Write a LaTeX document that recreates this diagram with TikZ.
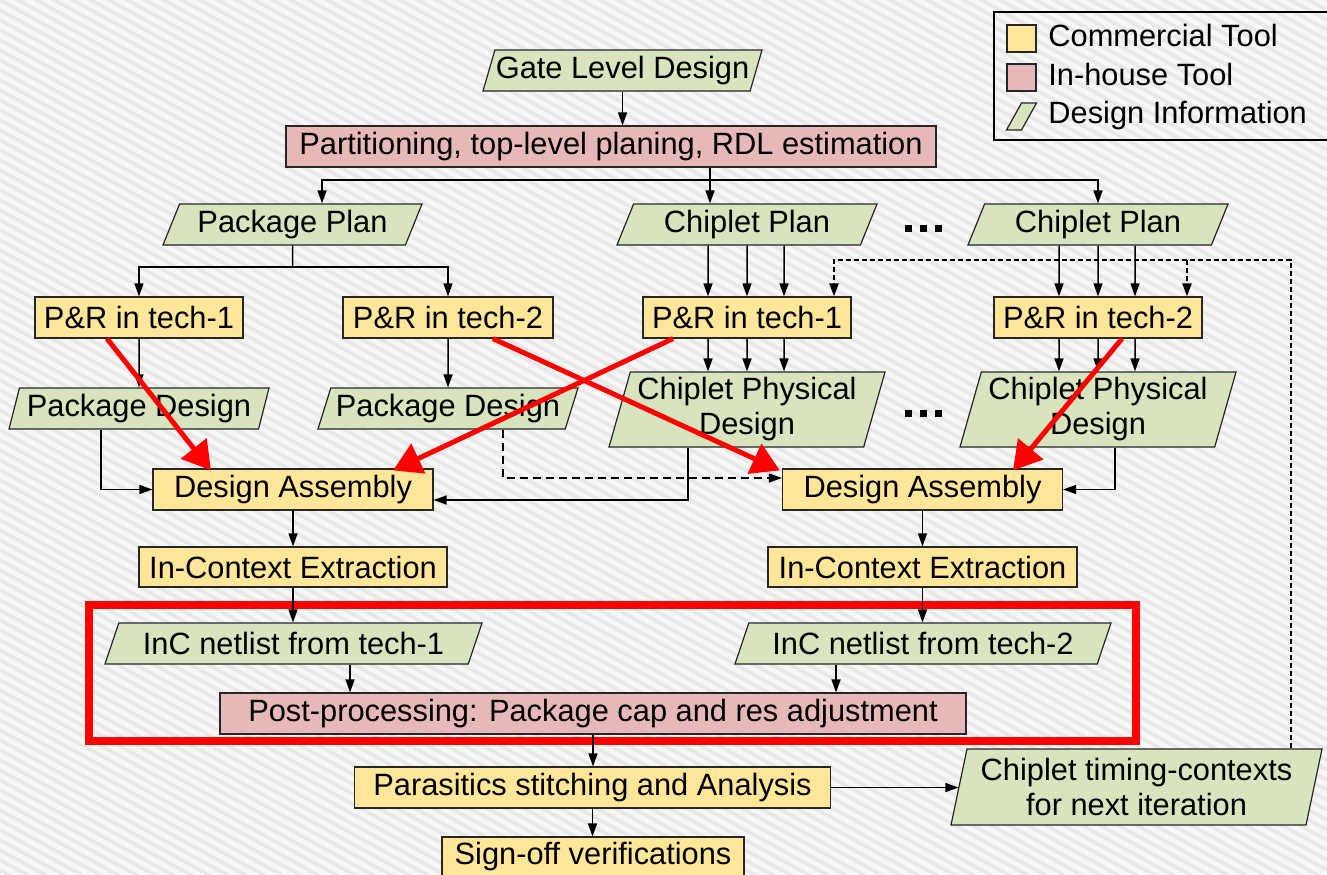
\documentclass[tikz,border=0pt]{standalone}
\usepackage{fontspec}
\setmainfont{Liberation Sans}
\usetikzlibrary{arrows.meta, calc, shapes.geometric}
\definecolor{toolyellow}{RGB}{255,230,153}
\definecolor{housepink}{RGB}{230,184,183}
\definecolor{infogreen}{RGB}{215,228,189}
\definecolor{bggray}{RGB}{246,246,246}
\definecolor{stripegray}{RGB}{232,232,232}

\begin{document}
\begin{tikzpicture}[x=0.5pt, y=-0.5pt, >={Triangle[length=6.5pt,width=4.5pt]},
  font=\fontsize{15.4}{17.5}\selectfont,
  box/.style={draw=black!85, line width=0.6pt, inner sep=0pt, minimum height=20.5pt},
  tool/.style={box, fill=toolyellow},
  inhouse/.style={box, fill=housepink},
  info/.style={box, fill=infogreen, trapezium, trapezium left angle=#1,
    trapezium right angle={180-#1}, trapezium stretches body},
  info/.default=62,
  link/.style={line width=0.75pt, ->},
  redarrow/.style={red, line width=2.5pt, -{Triangle[length=14pt,width=16pt]}},
  fbline/.style={line width=1.1pt, dash pattern=on 2.5pt off 1.5pt, ->}]
  \useasboundingbox (0,0) rectangle (1327,874);
  % striped background
  \fill[bggray] (0,0) rectangle (1327,874);
  \begin{scope}
    \clip (0,0) rectangle (1327,874);
    \foreach \k in {-75,...,90}
      \draw[stripegray, line width=1.8pt] (0,10*\k) -- (1327,10*\k+730);
  \end{scope}

  % legend
  \draw[line width=0.75pt] (994,12) rectangle (1330,140);
  \node[tool, minimum width=14.5pt, minimum height=13.5pt] (keytool) at (1021.5,38.5) {};
  \node[inhouse, minimum width=14.5pt, minimum height=13.5pt] (keyhouse) at (1021.5,77.5) {};
  \node[info=80, trapezium stretches body=false, trapezium stretches=true,
    minimum width=15pt, minimum height=13.5pt] (keyinfo) at (1021.5,116.5) {\vphantom{I}};
  \node[anchor=base west, inner sep=0pt] (keytooltext) at (1048,46) {Commercial Tool};
  \node[anchor=base west, inner sep=0pt] (keyhousetext) at (1048,85) {In-house Tool};
  \node[anchor=base west, inner sep=0pt] (keyinfotext) at (1048,123) {Design Information};

  % post-processing frame
  \draw[red, line width=4pt] (89,605) rectangle (1136,741);

  % planning
  \node[info=67.5, minimum width=139.5pt] (gate) at (622.5,70.5) {Gate Level Design};
  \node[inhouse, minimum width=325pt] (part) at (611,146.5) {Partitioning, top-level planing, RDL estimation};
  \node[info=60, minimum width=129.5pt] (pplan) at (292.5,224.5) {Package Plan};
  \node[info=60, minimum width=130pt] (cplanA) at (747,224.5) {Chiplet Plan};
  \node[info=60, minimum width=130pt] (cplanB) at (1098,224.5) {Chiplet Plan};

  % place and route
  \node[tool, minimum width=104pt] (prPkgA) at (139,317.5) {P\&R in tech-1};
  \node[tool, minimum width=105pt] (prPkgB) at (448,317.5) {P\&R in tech-2};
  \node[tool, minimum width=104pt] (prChipA) at (747,317.5) {P\&R in tech-1};
  \node[tool, minimum width=104pt] (prChipB) at (1098,317.5) {P\&R in tech-2};

  % physical designs
  \node[info=70, minimum width=130pt] (pkgA) at (139,408.5) {Package Design};
  \node[info=66, minimum width=130pt] (pkgB) at (448,408.5) {Package Design};
  \node[info=71.5, minimum width=138pt, minimum height=37.5pt, align=center] (chipA) at (747,409.5) {Chiplet Physical\\Design};
  \node[info=71.5, minimum width=138pt, minimum height=37.5pt, align=center] (chipB) at (1098,409.5) {Chiplet Physical\\Design};

  % assembly and extraction
  \node[tool, minimum width=140pt] (asmA) at (293,489.5) {Design Assembly};
  \node[tool, minimum width=140pt] (asmB) at (922.5,489.5) {Design Assembly};
  \node[tool, minimum width=154pt, minimum height=20pt] (extA) at (293,567) {In-Context Extraction};
  \node[tool, minimum width=154.5pt, minimum height=20pt] (extB) at (922.5,567) {In-Context Extraction};
  \node[info=58.6, minimum width=188.5pt] (netA) at (293.5,643.5) {InC netlist from tech-1};
  \node[info=58.6, minimum width=188pt] (netB) at (923,643.5) {InC netlist from tech-2};
  \node[inhouse, minimum width=373pt] (post) at (593,713.5) {Post-processing: Package cap and res adjustment};
  \node[tool, minimum width=238pt] (stitch) at (592.5,787.5) {Parasitics stitching and Analysis};
  \node[tool, minimum width=151pt, minimum height=20pt] (signoff) at (593,857) {Sign-off verifications};
  \node[info=74.5, minimum width=185.5pt, minimum height=38pt, align=center] (ctx) at (1136.5,787) {Chiplet timing-contexts\\for next iteration};

  % dots between chiplets
  \foreach \x in {908.5,923.5,938.5} {
    \fill (\x-3.5,224.5) rectangle ++(7,7);
    \fill (\x-3.5,409.5) rectangle ++(7,7);
  }

  % top connectors
  \draw[link] (gate.south) -- (gate.south |- part.north);
  \coordinate (split) at (710,180);
  \draw[line width=0.75pt] (part.south -| split) -- (split);
  \draw[link] (split) -| ($(pplan.north)+(29.5,0)$);
  \draw[link] (split) -- (split |- cplanA.north);
  \draw[link] (split) -| (cplanB.north);
  \coordinate (pkgsplit) at (292.5,267);
  \draw[line width=0.75pt] (pplan.south) -- (pkgsplit);
  \draw[link] (pkgsplit) -| (prPkgA.north);
  \draw[link] (pkgsplit) -| (prPkgB.north);
  \foreach \dx in {-39,0,37} {
    \draw[link] ($(cplanA.south)+(\dx,0)$) -- ($(prChipA.north)+(\dx,0)$);
    \draw[link] ($(prChipA.south)+(\dx,0)$) -- ($(chipA.north)+(\dx,0)$);
    \draw[link] ($(cplanB.south)+(\dx,0)$) -- ($(prChipB.north)+(\dx,0)$);
    \draw[link] ($(prChipB.south)+(\dx,0)$) -- ($(chipB.north)+(\dx,0)$);
  }
  \draw[link] (prPkgA.south) -- (pkgA.north);
  \draw[link] (prPkgB.south) -- (pkgB.north);

  % into assembly
  \draw[link] ($(pkgA.south)+(-38,0)$) |- (asmA.west);
  \draw[link] ($(chipA.south)+(-59,0)$) |- ($(asmA.east)+(0,10.5)$);
  \draw[link, dash pattern=on 4pt off 2.5pt] ($(pkgB.south)+(55,0)$) |- ($(asmB.west)+(0,-11.5)$);
  \draw[link] ($(chipB.south)+(17,0)$) |- (asmB.east);

  % down the flow
  \draw[link] (asmA.south) -- (extA.north);
  \draw[link] (asmB.south) -- (extB.north);
  \draw[link] (extA.south) -- (extA.south |- netA.north);
  \draw[link] (extB.south) -- (extB.south |- netB.north);
  \draw[link] ($(netA.south)+(56.5,0)$) coordinate (netAout) -- (netAout |- post.north);
  \draw[link] ($(netB.south)+(-87,0)$) coordinate (netBout) -- (netBout |- post.north);
  \draw[link] (post.south) -- (post.south |- stitch.north);
  \draw[link] (stitch.south) -- (stitch.south |- signoff.north);
  \draw[link] (stitch.east) -- (stitch.east -| ctx.west);

  % feedback to the next iteration
  \coordinate (fbA) at (834,260);
  \coordinate (fbB) at (1187,260);
  \draw[fbline] ($(ctx.north)+(154.5,0)$) |- (fbA) -- (fbA |- prChipA.north);
  \draw[fbline] (fbB) -- (fbB |- prChipB.north);

  % red highlights
  \draw[redarrow] ($(prPkgA.south)+(-32,0)$) -- ($(asmA.north)+(-82,2)$);
  \draw[redarrow] ($(prChipA.south)+(-74,0)$) -- ($(asmA.north)+(100,2)$);
  \draw[redarrow] ($(prPkgB.south)+(45,0)$) -- ($(asmB.north west)+(-2,2)$);
  \draw[redarrow] ($(prChipB.south)+(24,0)$) -- ($(asmB.north)+(90.5,2)$);
\end{tikzpicture}
\end{document}
